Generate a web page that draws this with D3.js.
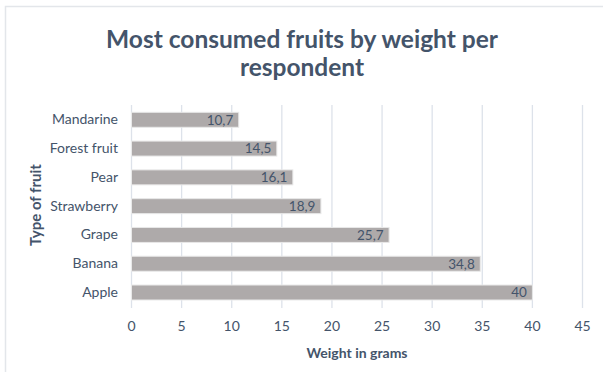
<!DOCTYPE html>
<html><head><meta charset="utf-8">
<script src="https://cdn.jsdelivr.net/npm/d3@7"></script>
<style>body{margin:0;background:#fff}svg{display:block}</style>
</head><body>
<svg id="chart" width="603" height="372"></svg>
<script>
const categories = ["Mandarine","Forest fruit","Pear","Strawberry","Grape","Banana","Apple"];
const values = [10.7,14.5,16.1,18.9,25.7,34.8,40];
const valueLabels = ["10,7","14,5","16,1","18,9","25,7","34,8","40"];
const xTicks = [0,5,10,15,20,25,30,35,40,45];
const titleLines = ["Most consumed fruits by weight per","respondent"];
const xTitle = "Weight in grams";
const yTitle = "Type of fruit";

const font = "Lato, 'Open Sans', sans-serif";
const textColor = "#44546a";
const svg = d3.select("#chart");

svg.append("rect").attr("x",5.5).attr("y",6.5).attr("width",620).attr("height",400)
  .attr("fill","#fff").attr("stroke","#e3e6ea").attr("stroke-width",1.5);

const x = d3.scaleLinear().domain([0,45]).range([131,582]);
const y = d3.scaleBand().domain(categories).range([105.4,306.9]).paddingInner(0.48).paddingOuter(0.24);

// gridlines
svg.append("g").selectAll("line").data(xTicks).join("line")
  .attr("x1",d=>x(d)+0.5).attr("x2",d=>x(d)+0.5)
  .attr("y1",105).attr("y2",308)
  .attr("stroke","#dde2ea").attr("stroke-width",1.3);

// bars
svg.append("g").selectAll("rect").data(values).join("rect")
  .attr("x",x(0)+0.5).attr("y",(d,i)=>y(categories[i]))
  .attr("width",d=>x(d)-x(0)).attr("height",y.bandwidth())
  .attr("fill","#aeaaaa").attr("stroke","#e8e8e8").attr("stroke-width",1);

// value labels
svg.append("g").selectAll("text").data(values).join("text")
  .attr("x",d=>x(d)-5).attr("y",(d,i)=>y(categories[i])+y.bandwidth()/2)
  .attr("dy","0.36em").attr("text-anchor","end")
  .attr("font-family",font).attr("font-size",13.5).attr("fill",textColor)
  .text((d,i)=>valueLabels[i]);

// x axis
const xAxis = svg.append("g").attr("transform","translate(0,318)")
  .call(d3.axisBottom(x).tickValues(xTicks).tickSize(0).tickFormat(d3.format("d")));
xAxis.select(".domain").remove();
xAxis.selectAll("text").attr("font-family",font).attr("font-size",14).attr("fill",textColor).attr("dy","0.71em");

// y axis
const yAxis = svg.append("g").attr("transform","translate(118,0)")
  .call(d3.axisLeft(y).tickSize(0).tickPadding(0));
yAxis.select(".domain").remove();
yAxis.selectAll("text").attr("font-family",font).attr("font-size",14).attr("fill",textColor);

// titles
svg.append("text").attr("text-anchor","middle").attr("font-family",font)
  .attr("font-weight","bold").attr("font-size",24.5).attr("fill",textColor)
  .selectAll("tspan").data(titleLines).join("tspan")
  .attr("x",302).attr("y",(d,i)=>48+i*28).text(d=>d);

svg.append("text").attr("x",357).attr("y",358).attr("text-anchor","middle")
  .attr("font-family",font).attr("font-weight","bold").attr("font-size",14).attr("fill",textColor)
  .text(xTitle);

svg.append("text").attr("transform","translate(41,205) rotate(-90)").attr("text-anchor","middle")
  .attr("font-family",font).attr("font-weight","bold").attr("font-size",15).attr("fill",textColor)
  .text(yTitle);
</script>
</body></html>
